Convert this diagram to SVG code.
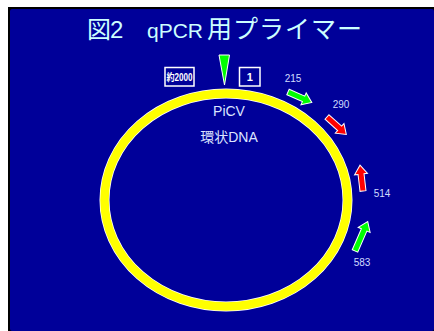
<svg xmlns="http://www.w3.org/2000/svg" width="434" height="331" viewBox="0 0 434 331">
  <style>
    .lbl { font-family: "Liberation Sans", Arial, sans-serif; font-size: 10px; fill: #D0DCFF; text-anchor: middle; }
    .mid { font-family: "Liberation Sans", "Noto Sans CJK JP", sans-serif; font-size: 14px; fill: #DCE4FF; text-anchor: middle; }
    .box { fill: none; stroke: #FFFFFF; stroke-width: 1.5; }
    .boxt { font-family: "Liberation Sans", "Noto Sans CJK JP", sans-serif; font-weight: bold; fill: #FFFFFF; text-anchor: middle; }
    .fwd { fill: #00FF00; stroke: #FFFFFF; stroke-width: 1; }
    .rev { fill: #FF0000; stroke: #FFFFFF; stroke-width: 1; }
  </style>
  <defs>
    <path id="arr26" d="M0,-3 H17 V-6.5 L26,0 L17,6.5 V3 H0 Z"/>
    <path id="arr32" d="M0,-3 H23 V-6.5 L32,0 L23,6.5 V3 H0 Z"/>
  </defs>
  <rect x="0" y="0" width="434" height="331" fill="#FFFFFF"/>
  <rect x="8" y="7" width="426" height="324" fill="#000000"/>
  <rect x="10" y="9" width="424" height="322" rx="2" fill="#000099"/>

  <g id="title">
    <text y="38" font-family="'Noto Sans CJK JP', sans-serif" font-size="24" fill="#CCFFFF">
      <tspan x="87">図</tspan><tspan x="110" font-size="24" font-family="'Liberation Sans', sans-serif">2</tspan><tspan x="147" font-size="21" font-family="'Liberation Sans', sans-serif">qPCR</tspan><tspan x="207" font-size="25" letter-spacing="1">用プライマー</tspan>
    </text>
  </g>

  <g id="dna-ring">
    <ellipse cx="226" cy="200" rx="121.5" ry="106.5" fill="none" stroke="#FFFFFF" stroke-width="10"/>
    <ellipse cx="226" cy="200" rx="121.5" ry="106.5" fill="none" stroke="#FFFF00" stroke-width="8.5"/>
    <text class="mid" x="229" y="116">PiCV</text>
    <text class="mid" x="229" y="142">環状DNA</text>
  </g>

  <g id="origin-marker">
    <polygon points="219,55 229.5,55 224.5,85" fill="#00FF00" stroke="#FFFFFF" stroke-width="1"/>
  </g>

  <g id="box-2000">
    <rect class="box" x="165" y="67.5" width="29" height="18.5"/>
    <text class="boxt" x="179.5" y="80.5" font-size="10" textLength="26" lengthAdjust="spacingAndGlyphs">約2000</text>
  </g>
  <g id="box-1">
    <rect class="box" x="239.5" y="67.5" width="20.5" height="18.5"/>
    <text class="boxt" x="249.8" y="81" font-size="11">1</text>
  </g>

  <g id="connectors">
    <g id="primer-215">
      <use href="#arr26" class="fwd" transform="translate(288,92) rotate(23.7)"/>
      <text class="lbl" x="293" y="82">215</text>
    </g>
    <g id="primer-290">
      <use href="#arr26" class="rev" transform="translate(327,117) rotate(42)"/>
      <text class="lbl" x="341" y="108">290</text>
    </g>
    <g id="primer-514">
      <use href="#arr26" class="rev" transform="translate(363,191) rotate(-96.6)"/>
      <text class="lbl" x="382" y="197">514</text>
    </g>
    <g id="primer-583">
      <use href="#arr32" class="fwd" transform="translate(355,251) rotate(-66.6)"/>
      <text class="lbl" x="362" y="266">583</text>
    </g>
  </g>
</svg>
